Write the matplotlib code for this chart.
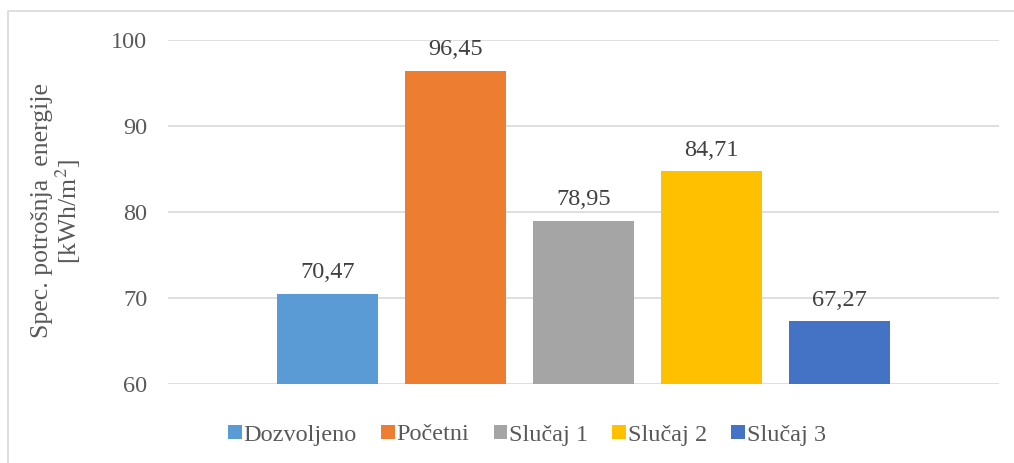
import matplotlib
matplotlib.use("Agg")
import numpy as np
from matplotlib import pyplot as plt
from matplotlib.patches import Rectangle

# Data
categories = ["Dozvoljeno", "Početni", "Slučaj 1", "Slučaj 2", "Slučaj 3"]
values = [70.47, 96.45, 78.95, 84.71, 67.27]
colors = ["#5b9bd5", "#ed7d31", "#a5a5a5", "#ffc000", "#4472c4"]
yticks = [60, 70, 80, 90, 100]

text_color = "#595959"
fs = 17.5
plt.rcParams["font.family"] = ["Liberation Serif", "DejaVu Serif"]
plt.rcParams["mathtext.fontset"] = "stix"

fig = plt.figure(figsize=(10.14, 4.63), dpi=100)
ax = fig.add_axes([168 / 1014, 79 / 463, 831 / 1014, 344 / 463])

x = np.arange(len(categories))
bars = ax.bar(x, values, width=101 / 128, color=colors, label=categories, zorder=2)

for xi, v in zip(x, values):
    ax.annotate(f"{v:.2f}".replace(".", ","), (xi, v), xytext=(0, 11.5),
                textcoords="offset points", ha="center", va="baseline",
                fontsize=fs, color="#404040")

ax.set_xlim(-1.25, 5.25)
ax.set_ylim(60, 100)
ax.set_yticks(yticks)
ax.set_xticks([])
ax.grid(axis="y", color="#d9d9d9", linewidth=1.2, zorder=0)
for s in ax.spines.values():
    s.set_visible(False)
ax.tick_params(axis="y", length=0, pad=15, labelsize=fs, labelcolor=text_color)

fig.text(57 / 1014, (463 - 211) / 463,
         "Spec. potrošnja  energije\n[kWh/m$^2$]", rotation=90,
         ha="center", va="center", fontsize=18.5, color=text_color,
         linespacing=1.0)

leg = ax.legend(handles=list(bars), labels=categories, loc="center",
                bbox_to_anchor=(527 / 1014, (463 - 435) / 463),
                bbox_transform=fig.transFigure,
                ncol=5, frameon=False, fontsize=fs, handlelength=0.55,
                handleheight=0.55, handletextpad=0.08, columnspacing=1.0)
for t in leg.get_texts():
    t.set_color(text_color)

# outer chart border
fig.patches.append(Rectangle((8 / 1014, -0.1), 1.1, (463 - 11) / 463 + 0.1,
                             transform=fig.transFigure, fill=False,
                             edgecolor="#d9d9d9", linewidth=1.2))

plt.savefig("out.png", dpi=100)
